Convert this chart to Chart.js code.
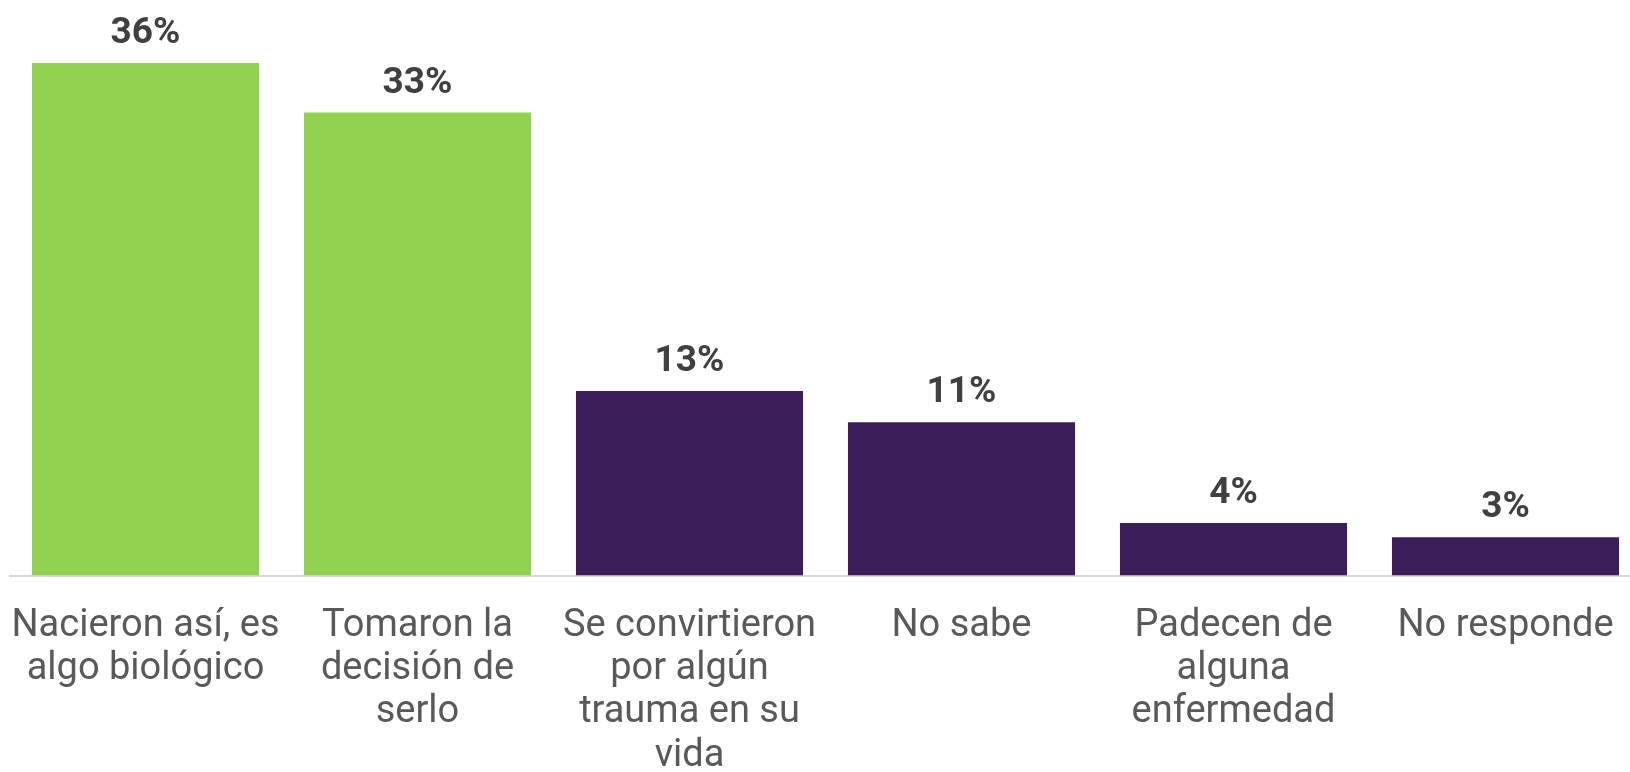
<!DOCTYPE html>
<html>
<head>
<meta charset="utf-8">
<script src="https://cdn.jsdelivr.net/npm/chart.js@4.4.1/dist/chart.umd.min.js"></script>
<style>
    html, body { margin: 0; padding: 0; background: #ffffff; overflow: hidden; }
    #wrap { width: 1650px; height: 772px; }
</style>
</head>
<body>
<div id="wrap"><canvas id="myChart" width="1650" height="772"></canvas></div>
<script>
// Categories (wrapped as in the original)
const categories = [
    ['Nacieron así, es', 'algo biológico'],
    ['Tomaron la', 'decisión de', 'serlo'],
    ['Se convirtieron', 'por algún', 'trauma en su', 'vida'],
    'No sabe',
    ['Padecen de', 'alguna', 'enfermedad'],
    'No responde'
];

// Percentages
const percentages = [36.1, 32.6, 13.0, 10.8, 3.7, 2.7];

const green = '#92D050';
const purple = '#3C1F5A';
const barColors = [green, green, purple, purple, purple, purple];

// Draws the % value above each bar
const valueLabels = {
    id: 'valueLabels',
    afterDatasetsDraw(chart) {
        const ctx = chart.ctx;
        const meta = chart.getDatasetMeta(0);
        ctx.save();
        ctx.font = 'bold 37px Roboto';
        ctx.fillStyle = '#404040';
        ctx.textAlign = 'center';
        ctx.textBaseline = 'alphabetic';
        meta.data.forEach((bar, i) => {
            ctx.fillText(Math.round(percentages[i]) + '%', bar.x, bar.y - 20);
        });
        ctx.restore();
    }
};

const ctx = document.getElementById('myChart').getContext('2d');

const chart = new Chart(ctx, {
    type: 'bar',
    data: {
        labels: categories,
        datasets: [{
            data: percentages,
            backgroundColor: barColors,
            borderWidth: 0,
            barPercentage: 0.835,
            categoryPercentage: 1.0
        }]
    },
    options: {
        responsive: false,
        animation: false,
        layout: {
            padding: { left: 9.5, right: 8.5, top: 7.5, bottom: 0 }
        },
        plugins: {
            legend: { display: false },
            tooltip: { enabled: false }
        },
        scales: {
            x: {
                grid: { display: false, drawTicks: false },
                border: { display: true, color: '#d9d9d9', width: 2 },
                ticks: {
                    color: '#595959',
                    font: { family: 'Roboto', size: 38, lineHeight: 1.14 },
                    padding: 29,
                    maxRotation: 0,
                    minRotation: 0,
                    autoSkip: false
                },
                // keep the long labels from squeezing the plot area
                afterFit: function(scale) {
                    scale.paddingLeft = 0;
                    scale.paddingRight = 0;
                    scale.height = 196.5;
                }
            },
            y: {
                display: false,
                min: 0,
                max: 40
            }
        }
    },
    plugins: [valueLabels]
});
</script>
</body>
</html>
